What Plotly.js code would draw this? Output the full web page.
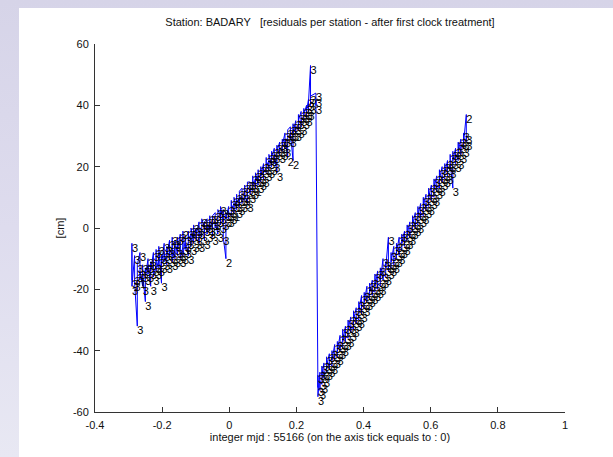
<!DOCTYPE html>
<html>
<head>
<meta charset="utf-8">
<script src="https://cdn.plot.ly/plotly-3.0.1.min.js"></script>
<style>
  html, body { margin: 0; padding: 0; width: 613px; height: 457px; overflow: hidden;
    background: linear-gradient(to bottom, #d6d4e8 0%, #dedcee 50%, #e8e8f3 100%); }
  #plot { position: absolute; left: 19px; top: 8px; width: 594px; height: 449px; background: #ffffff; }
</style>
</head>
<body>
<div id="plot"></div>
<script>
// ---- data ----
// epochs (fraction of day from integer mjd 55166); each epoch has 3 residuals
const seg1Epochs = [
  -0.290, -0.282, -0.274, -0.266, -0.258, -0.250, -0.242, -0.234, -0.226, -0.218,
  -0.210, -0.202, -0.194, -0.186, -0.178, -0.170, -0.162, -0.154, -0.146, -0.138,
  -0.130, -0.122, -0.114, -0.106, -0.098, -0.090, -0.082, -0.074, -0.066, -0.058,
  -0.050, -0.042, -0.034, -0.026, -0.018, -0.010, -0.002, 0.006, 0.014, 0.022,
  0.030, 0.038, 0.046, 0.054, 0.062, 0.070, 0.078, 0.086, 0.094, 0.102,
  0.110, 0.118, 0.126, 0.134, 0.142, 0.150, 0.158, 0.166, 0.174, 0.182,
  0.190, 0.198, 0.206, 0.214, 0.222, 0.230, 0.236, 0.242, 0.258
];
const seg1Y = [
  -17, -5, -19,   -9, -16, -18,   -32, -15, -12,   -8, -17, -14,   -19, -12, -15,
  -24, -13, -16,  -10, -15, -12,  -19, -11, -14,   -8, -13, -16,   -12, -7, -14,
  -10, -13, -6,   -18, -9, -12,   -5, -11, -8,     -12, -6, -9,    -4, -10, -7,
  -9, -3, -11,    -6, -10, -4,    -9, -3, -7,      -2, -8, -10,    -6, -1, -9,
  -3, -7, -5,     -9, -1, -4,     -2, -6, 0,       -5, 1, -3,      0, -4, -2,
  2, -5, -1,      -3, 1, 3,       0, -4, 2,        3, -2, 1,       -1, 4, 0,
  2, -3, 4,       5, 0, 2,        -2, 3, 6,        4, 1, 7,        2, 6, -3,
  -10, 5, 3,      7, 3, 5,        4, 9, 6,         8, 5, 10,       6, 11, 8,
  10, 7, 12,      13, 8, 10,      9, 14, 11,       8, 12, 15,      15, 11, 13,
  12, 17, 14,     16, 13, 18,     14, 19, 16,      15, 20, 17,     21, 16, 19,
  18, 23, 20,     22, 19, 24,     20, 25, 23,      26, 21, 24,     18, 27, 25,
  28, 24, 26,     25, 29, 27,     31, 26, 29,      23, 30, 32,     33, 29, 31,
  22, 34, 31,     35, 31, 33,     32, 37, 35,      38, 33, 36,     35, 39, 37,
  40, 36, 38,     42, 38, 41,     53, 40, 43,      44, 40, 42
];
const seg1Labels =
  '333 333 333 313 333 333 333 333 333 333 ' +
  '333 333 333 333 333 333 333 333 333 323 ' +
  '333 333 333 333 333 333 333 333 333 333 ' +
  '333 333 333 333 333 233 333 333 313 333 ' +
  '333 333 333 333 333 333 313 333 323 333 ' +
  '333 333 333 333 333 333 333 333 233 333 ' +
  '233 333 333 333 333 333 333 333 333';
const seg2Epochs = [
  0.264, 0.270, 0.276, 0.282, 0.290, 0.298, 0.306, 0.314, 0.322, 0.330,
  0.338, 0.346, 0.354, 0.362, 0.370, 0.378, 0.386, 0.394, 0.402, 0.410,
  0.418, 0.426, 0.434, 0.442, 0.450, 0.458, 0.466, 0.474, 0.482, 0.490,
  0.498, 0.506, 0.514, 0.522, 0.530, 0.538, 0.546, 0.554, 0.562, 0.570,
  0.578, 0.586, 0.594, 0.602, 0.610, 0.618, 0.626, 0.634, 0.642, 0.650,
  0.658, 0.666, 0.674, 0.682, 0.690, 0.698, 0.706
];
const seg2Y = [
  -52, -48, -55,  -47, -53, -50,  -51, -45, -48,  -44, -49, -47,  -47, -42, -45,
  -41, -46, -44,  -45, -40, -43,  -38, -43, -41,  -42, -37, -40,  -35, -40, -38,
  -39, -33, -37,  -32, -37, -35,  -36, -30, -33,  -29, -34, -32,  -33, -27, -30,
  -26, -31, -29,  -30, -24, -27,  -22, -28, -25,  -26, -21, -24,  -19, -24, -22,
  -23, -18, -21,  -17, -22, -20,  -21, -15, -19,  -14, -20, -18,  -19, -13, -17,
  -10, -17, -15,  -16, -11, -13,  -3, -14, -12,   -13, -8, -11,   -6, -12, -10,
  -10, -5, -8,    -3, -9, -7,     -7, -2, -5,     -1, -6, -4,     -4, 1, -2,
  2, -3, -1,      -1, 4, 1,       5, 0, 2,        1, 7, 4,        8, 3, 5,
  4, 10, 7,       11, 6, 8,       7, 13, 10,      14, 9, 11,      10, 16, 13,
  17, 12, 14,     13, 19, 16,     20, 15, 17,     16, 21, 18,     22, 17, 20,
  19, 24, 21,     13, 25, 22,     26, 21, 24,     22, 28, 25,     29, 24, 27,
  26, 31, 28,     37, 28, 30
];
const seg2Labels =
  '333 333 333 333 333 333 333 333 333 333 ' +
  '333 333 333 333 333 333 333 333 333 333 ' +
  '333 333 333 333 333 333 333 333 333 333 ' +
  '333 333 333 333 333 333 333 333 333 333 ' +
  '333 333 333 333 333 333 333 333 333 333 ' +
  '333 333 333 333 333 333 233';

const xTickVals = [-0.4, -0.2, 0, 0.2, 0.4, 0.6, 0.8, 1];
const xTickText = ['-0.4', '-0.2', '0', '0.2', '0.4', '0.6', '0.8', '1'];
const yTickVals = [-60, -40, -20, 0, 20, 40, 60];
const yTickText = ['-60', '-40', '-20', '0', '20', '40', '60'];

const chartTitle = 'Station: BADARY\u00a0\u00a0\u00a0[residuals per station - after first clock treatment]';
const xTitle = 'integer mjd : 55166 (on the axis tick equals to : 0)';
const yTitle = '[cm]';

// ---- build the series: every epoch carries its 3 residuals ----
function expandEpochs(epochs) {
  const out = [];
  epochs.forEach(function (e) { out.push(e, e, e); });
  return out;
}
function labelList(s) { return s.replace(/\s+/g, '').split(''); }

const allX = expandEpochs(seg1Epochs).concat(expandEpochs(seg2Epochs));
const allY = seg1Y.concat(seg2Y);
const allText = labelList(seg1Labels).concat(labelList(seg2Labels));

// ---- chart ----
const FONT = 'Liberation Sans, Arial, Helvetica, sans-serif';
const trace = {
  type: 'scatter',
  mode: 'lines+text',
  x: allX,
  y: allY,
  text: allText,
  textposition: 'bottom right',
  textfont: { family: FONT, size: 11, color: '#000000' },
  line: { color: '#0000ff', width: 1 },
  cliponaxis: false,
  hoverinfo: 'none',
  showlegend: false
};

const axisCommon = {
  ticks: 'inside',
  ticklen: 5,
  tickwidth: 1,
  tickcolor: '#333333',
  showline: true,
  linecolor: '#333333',
  linewidth: 1,
  showgrid: false,
  zeroline: false,
  mirror: false,
  automargin: false,
  ticklabelstandoff: 3,
  tickfont: { family: FONT, size: 11, color: '#111111' }
};

const layout = {
  width: 594,
  height: 449,
  margin: { l: 76, r: 48, t: 36, b: 45 },
  paper_bgcolor: '#ffffff',
  plot_bgcolor: '#ffffff',
  font: { family: FONT, size: 11, color: '#111111' },
  title: {
    text: chartTitle,
    font: { family: FONT, size: 11, color: '#111111' },
    xref: 'paper', x: 0.5, xanchor: 'center',
    yref: 'container', y: 0.969, yanchor: 'middle'
  },
  xaxis: Object.assign({}, axisCommon, {
    range: [-0.4, 1],
    tickmode: 'array',
    tickvals: xTickVals,
    ticktext: xTickText,
    title: { text: xTitle, font: { family: FONT, size: 11, color: '#111111' }, standoff: 2 }
  }),
  yaxis: Object.assign({}, axisCommon, {
    range: [-60, 60],
    tickmode: 'array',
    tickvals: yTickVals,
    ticktext: yTickText,
    title: { text: yTitle, font: { family: FONT, size: 11, color: '#111111' }, standoff: 6 }
  })
};

Plotly.newPlot('plot', [trace], layout, { staticPlot: true, displayModeBar: false });
</script>
</body>
</html>
